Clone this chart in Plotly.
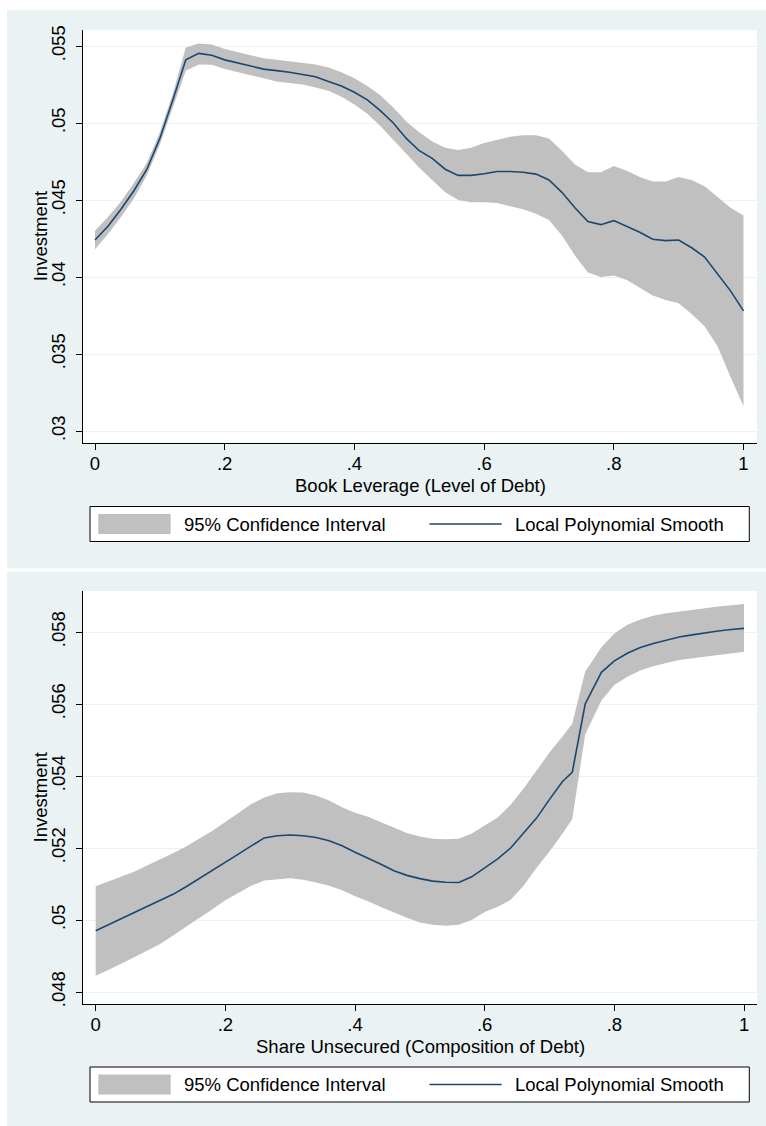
import plotly.graph_objects as go

# ---------------- data ----------------
lev_x = [0.00, 0.02, 0.04, 0.06, 0.08, 0.10, 0.12, 0.14, 0.16, 0.18, 0.20, 0.22, 0.24, 0.26, 0.28,
         0.30, 0.32, 0.34, 0.36, 0.38, 0.40, 0.42, 0.44, 0.46, 0.48, 0.50, 0.52, 0.54, 0.56, 0.58,
         0.60, 0.62, 0.64, 0.66, 0.68, 0.70, 0.72, 0.74, 0.76, 0.78, 0.80, 0.82, 0.84, 0.86, 0.88,
         0.90, 0.92, 0.94, 0.96, 0.98, 1.00]
lev_fit = [.0424, .0433, .0444, .0456, .0470, .0490, .0515, .0541, .05452, .0544, .0541, .0539, .0537, .0535, .0534,
           .0533, .05315, .0530, .0527, .0524, .0520, .0515, .0508, .0500, .0490, .0482, .0477, .0470, .0466, .0466,
           .0467, .04685, .04685, .0468, .04668, .0463, .0455, .0445, .0436, .0434, .04366, .0433, .0429, .04245, .04236,
           .0424, .0419, .0413, .0402, .0391, .0378]
lev_hi = [.0430, .0439, .0449, .0461, .0474, .0494, .0519, .0549, .05517, .0551, .0548, .0546, .0544, .0542, .0541,
          .0540, .0539, .0538, .0536, .0533, .0529, .0524, .0518, .0510, .0501, .0494, .0488, .0484, .04825, .0484,
          .0487, .0489, .0491, .0492, .0492, .0490, .0482, .0473, .0468, .0468, .0472, .0469, .0465, .0462, .0462,
          .0465, .0463, .0459, .0452, .0445, .0440]
lev_lo = [.0418, .0428, .0439, .0451, .0466, .0486, .0510, .0534, .0538, .05378, .0535, .0533, .0531, .0529, .0527,
          .0526, .0525, .0523, .0521, .0517, .0512, .0506, .0498, .0489, .0480, .0471, .0463, .0455, .0450, .04485,
          .04485, .0448, .0446, .0444, .0441, .0437, .0427, .0414, .0403, .0400, .0401, .0398, .0393, .0388, .0385,
          .0383, .0376, .0368, .0355, .0335, .0316]

sec_x = [0.00, 0.02, 0.04, 0.06, 0.08, 0.10, 0.12, 0.14, 0.16, 0.18, 0.20, 0.22, 0.24, 0.26, 0.28,
         0.30, 0.32, 0.34, 0.36, 0.38, 0.40, 0.42, 0.44, 0.46, 0.48, 0.50, 0.52, 0.54, 0.56, 0.58,
         0.60, 0.62, 0.64, 0.66, 0.68, 0.70, 0.72, 0.735, 0.755, 0.78, 0.80, 0.82, 0.84, 0.86, 0.88,
         0.90, 0.92, 0.94, 0.96, 0.98, 1.00]
sec_fit = [.04970, .04987, .05004, .05021, .05038, .05054, .05072, .05093, .05115, .05138, .05160, .05183, .05206, .05228, .05234,
           .05236, .05234, .05229, .05220, .05206, .05188, .05172, .05155, .05137, .05124, .05115, .05108, .05105, .05104, .05120,
           .05145, .05170, .05200, .05240, .05283, .05335, .05385, .05410, .05600, .05688, .05720, .05741, .05757, .05768, .05778,
           .05786, .05792, .05798, .05803, .05807, .05810]
sec_hi = [.05094, .05108, .05121, .05135, .05152, .05168, .05186, .05205, .05226, .05248, .05272, .05296, .05322, .05340, .05352,
          .05355, .05354, .05346, .05332, .05313, .05298, .05287, .05272, .05255, .05242, .05232, .05226, .05224, .05226, .05240,
          .05262, .05285, .05320, .05365, .05415, .05465, .05510, .05545, .05690, .05758, .05796, .05820, .05835, .05845, .05852,
          .05856, .05861, .05866, .05871, .05875, .05878]
sec_lo = [.04845, .04862, .04879, .04896, .04915, .04934, .04958, .04982, .05005, .05030, .05055, .05075, .05095, .05110, .05114,
          .05116, .05112, .05104, .05095, .05083, .05066, .05052, .05036, .05020, .05006, .04993, .04987, .04984, .04987, .05000,
          .05022, .05037, .05056, .05095, .05145, .05190, .05240, .05280, .05515, .05610, .05653, .05676, .05693, .05705, .05714,
          .05722, .05727, .05732, .05736, .05740, .05745]

x_tickvals = [0, 0.2, 0.4, 0.6, 0.8, 1.0]
x_ticktext = ["0", ".2", ".4", ".6", ".8", "1"]
lev_ytickvals = [0.03, 0.035, 0.04, 0.045, 0.05, 0.055]
lev_yticktext = [".03", ".035", ".04", ".045", ".05", ".055"]
sec_ytickvals = [0.048, 0.05, 0.052, 0.054, 0.056, 0.058]
sec_yticktext = [".048", ".05", ".052", ".054", ".056", ".058"]

x_title_top = "Book Leverage (Level of Debt)"
x_title_bottom = "Share Unsecured (Composition of Debt)"
y_title = "Investment"
legend_ci = "95% Confidence Interval"
legend_fit = "Local Polynomial Smooth"

# ---------------- style ----------------
W, H = 766, 1126
FONT = "Liberation Sans, Arial, Helvetica, sans-serif"
FS = 18.5
BG = "#EAF2F3"
BAND = "#C0C0C0"
NAVY = "#1A476F"


def fx(p):
    return p / W


def fy(p):
    return 1 - p / H


fig = go.Figure()

for xs, hi, lo, fit, xa, ya in [(lev_x, lev_hi, lev_lo, lev_fit, "x", "y"),
                                (sec_x, sec_hi, sec_lo, sec_fit, "x2", "y2")]:
    fig.add_trace(go.Scatter(x=xs + xs[::-1], y=hi + lo[::-1], fill="toself", fillcolor=BAND,
                             line=dict(width=0, color=BAND), mode="lines", showlegend=False,
                             xaxis=xa, yaxis=ya, hoverinfo="skip"))
    fig.add_trace(go.Scatter(x=xs, y=fit, mode="lines", line=dict(color=NAVY, width=1.6),
                             showlegend=False, xaxis=xa, yaxis=ya))

axis_common = dict(showline=True, linecolor="black", linewidth=1, ticks="outside", ticklen=6,
                   tickwidth=1, tickcolor="black", zeroline=False, automargin=False,
                   tickfont=dict(family=FONT, size=FS, color="black"))

fig.update_layout(
    width=W, height=H, autosize=False,
    margin=dict(l=0, r=0, t=0, b=0, pad=0),
    paper_bgcolor="white", plot_bgcolor="white",
    font=dict(family=FONT, size=FS, color="black"),
    showlegend=False,
    xaxis=dict(domain=[fx(83), fx(757)], range=[-0.0185, 1.0208], anchor="y",
               tickvals=x_tickvals, ticktext=x_ticktext, showgrid=False, ticklabelstandoff=-2,
               **axis_common),
    yaxis=dict(domain=[fy(442.7), fy(30)], range=[0.02924, 0.056039], anchor="x",
               tickvals=lev_ytickvals, ticktext=lev_yticktext, tickangle=-90, ticklabelstandoff=4,
               showgrid=True, gridcolor=BG, gridwidth=1.2,
               **axis_common),
    xaxis2=dict(domain=[fx(83), fx(757)], range=[-0.0196, 1.0200], anchor="y2",
                tickvals=x_tickvals, ticktext=x_ticktext, showgrid=False, ticklabelstandoff=-2,
                **axis_common),
    yaxis2=dict(domain=[fy(1004), fy(591)], range=[0.047667, 0.059139], anchor="x2",
                tickvals=sec_ytickvals, ticktext=sec_yticktext, tickangle=-90, ticklabelstandoff=4,
                showgrid=True, gridcolor=BG, gridwidth=1.2,
                **axis_common),
)

shapes = []
# outer graph regions
shapes.append(dict(type="rect", xref="paper", yref="paper", x0=fx(7), x1=fx(766), y0=fy(568.3), y1=fy(10),
                   fillcolor=BG, line=dict(width=0), layer="below"))
shapes.append(dict(type="rect", xref="paper", yref="paper", x0=fx(7), x1=fx(766), y0=fy(1126), y1=fy(571.7),
                   fillcolor=BG, line=dict(width=0), layer="below"))
# plot regions
shapes.append(dict(type="rect", xref="paper", yref="paper", x0=fx(83), x1=fx(757), y0=fy(442.7), y1=fy(30),
                   fillcolor="white", line=dict(width=0), layer="below"))
shapes.append(dict(type="rect", xref="paper", yref="paper", x0=fx(83), x1=fx(757), y0=fy(1004), y1=fy(591),
                   fillcolor="white", line=dict(width=0), layer="below"))

annotations = []
# axis titles
for xt, ytitle_c, xtitle_y in [(x_title_top, 236.3, 485), (x_title_bottom, 797.5, 1046.7)]:
    annotations.append(dict(xref="paper", yref="paper", x=fx(420), y=fy(xtitle_y), text=xt,
                            showarrow=False, xanchor="center", yanchor="middle",
                            font=dict(family=FONT, size=FS, color="black")))
    annotations.append(dict(xref="paper", yref="paper", x=fx(40), y=fy(ytitle_c), text=y_title,
                            showarrow=False, xanchor="center", yanchor="middle", textangle=-90,
                            font=dict(family=FONT, size=FS, color="black")))

# legends
for off in (0, 560.5):
    shapes.append(dict(type="rect", xref="paper", yref="paper", x0=fx(90), x1=fx(749.3),
                       y0=fy(541.5 + off), y1=fy(506.5 + off),
                       fillcolor="white", line=dict(color="black", width=1), layer="above"))
    shapes.append(dict(type="rect", xref="paper", yref="paper", x0=fx(98.3), x1=fx(170.7),
                       y0=fy(534 + off), y1=fy(514 + off),
                       fillcolor=BAND, line=dict(width=0), layer="above"))
    shapes.append(dict(type="line", xref="paper", yref="paper", x0=fx(429.5), x1=fx(501.7),
                       y0=fy(524 + off), y1=fy(524 + off),
                       line=dict(color=NAVY, width=1.6), layer="above"))
    annotations.append(dict(xref="paper", yref="paper", x=fx(181.7), y=fy(524 + off), text=legend_ci,
                            showarrow=False, xanchor="left", yanchor="middle",
                            font=dict(family=FONT, size=FS, color="black")))
    annotations.append(dict(xref="paper", yref="paper", x=fx(513.3), y=fy(524 + off), text=legend_fit,
                            showarrow=False, xanchor="left", yanchor="middle",
                            font=dict(family=FONT, size=FS, color="black")))

fig.update_layout(shapes=shapes, annotations=annotations)

fig.write_html("out.html")
